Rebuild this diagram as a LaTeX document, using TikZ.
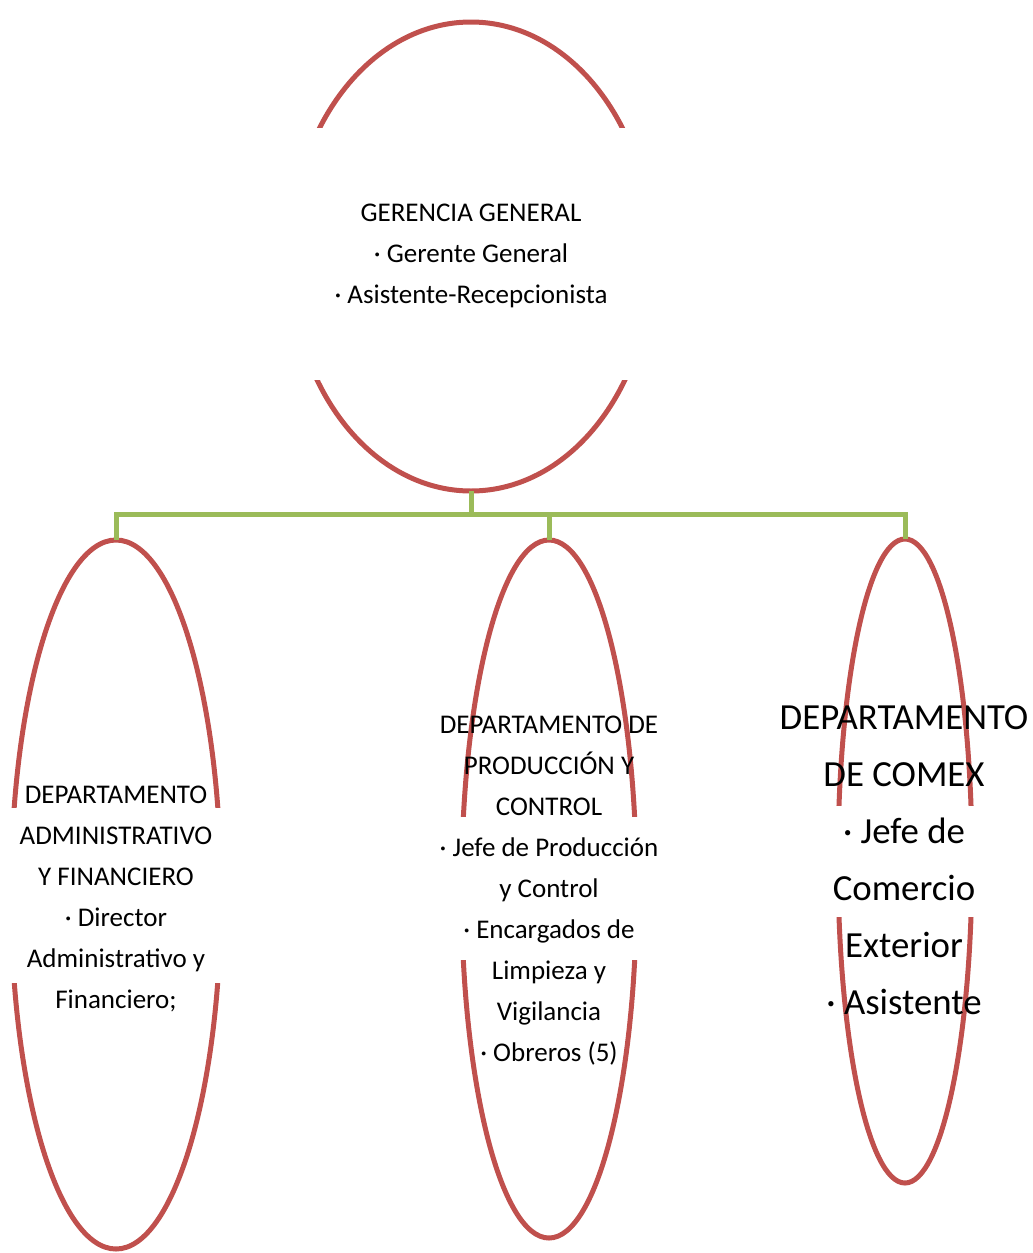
\documentclass[tikz,border=0pt]{standalone}
\usepackage{fontspec}
\setmainfont{Carlito}
\usetikzlibrary{shapes.geometric}
\definecolor{ovalred}{HTML}{C0504D}
\definecolor{linkgreen}{HTML}{9BBB59}
\begin{document}
\begin{tikzpicture}[x=1pt,y=-1pt,
  oval/.style={ellipse, draw=ovalred, line width=5pt, inner sep=0pt, outer sep=0pt},
  gap/.style={fill=white},
  link/.style={draw=linkgreen, line width=5pt},
  small/.style={align=center, font=\fontsize{27}{41}\selectfont, inner sep=0pt},
  large/.style={align=center, font=\fontsize{36.8}{57}\selectfont, inner sep=0pt}]
\useasboundingbox (0,0) rectangle (1033,1253);

% oval outlines
\node[oval, minimum width=362pt, minimum height=469pt] (gg)    at (471,256.5) {};
\node[oval, minimum width=210pt, minimum height=709pt] (adm)   at (116,894.5) {};
\node[oval, minimum width=175pt, minimum height=698pt] (prod)  at (549,889)   {};
\node[oval, minimum width=134pt, minimum height=644pt] (comex) at (905,861)   {};

% white text bands that interrupt the oval sides
\fill[gap] (284,128) rectangle (658,380);
\fill[gap] (4,808) rectangle (228,983);
\fill[gap] (456,817) rectangle (642,960);
\fill[gap] (831,806) rectangle (979,917);

% connectors
\coordinate (bus) at (471,514);
\draw[link] (gg.south) -- (bus);
\draw[link] (adm.north) |- (bus) -| (comex.north);
\draw[link] (prod.north) -- (prod.north |- bus);

% texts
\node[small] (ggtext) at (471,255.7)
  {GERENCIA GENERAL\\· Gerente General\\· Asistente-Recepcionista};
\node[small] (admtext) at (116,899)
  {DEPARTAMENTO\\ADMINISTRATIVO\\Y FINANCIERO\\· Director\\Administrativo y\\Financiero;};
\node[small] (prodtext) at (549,891)
  {DEPARTAMENTO DE\\PRODUCCIÓN Y\\CONTROL\\· Jefe de Producción\\y Control\\· Encargados de\\Limpieza y\\Vigilancia\\· Obreros (5)};
\node[large] (comextext) at (904,860.5)
  {DEPARTAMENTO\\DE COMEX\\· Jefe de\\Comercio\\Exterior\\· Asistente};
\end{tikzpicture}
\end{document}
